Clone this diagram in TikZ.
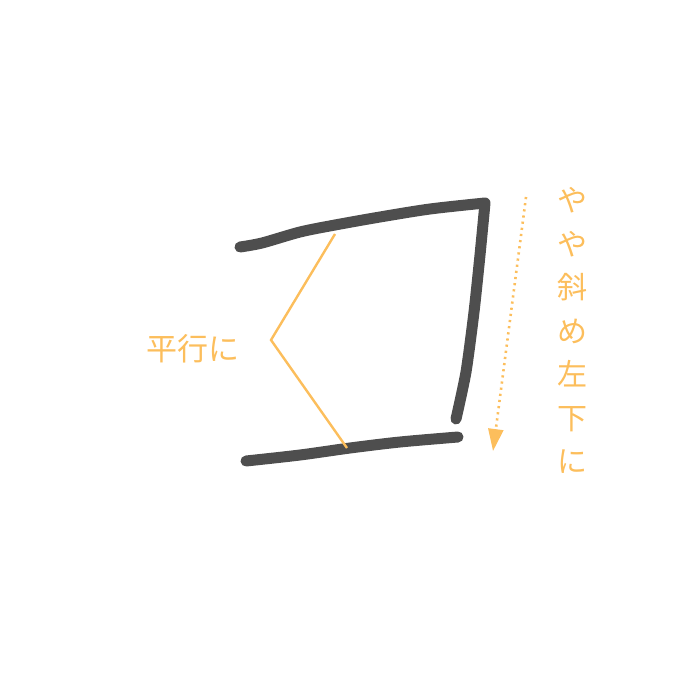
\documentclass[tikz,border=0pt]{standalone}
\usepackage{fontspec}
\newfontfamily\jp{Noto Sans CJK JP}
\usetikzlibrary{arrows.meta}
\definecolor{ink}{RGB}{78,78,78}
\definecolor{note}{RGB}{252,190,92}
\tikzset{
  brush/.style={draw=ink, line width=11pt, line cap=round, line join=round},
  guide/.style={draw=note, line width=2.4pt},
  hint/.style={draw=note, line width=2.6pt, dash pattern=on 2.2pt off 4pt, -{Triangle[length=22pt,width=15pt]}},
  label/.style={text=note, font=\jp\fontsize{31}{31}\selectfont, inner sep=0pt}
}
\begin{document}
\begin{tikzpicture}[x=1pt,y=-1pt]
\useasboundingbox (0,0) rectangle (700,700);
% strokes
\draw[brush] plot[smooth, tension=0.5] coordinates {(240,247) (262,243) (300,232) (335,225) (380,217) (430,209) (485,203)}
  -- plot[smooth, tension=0.4] coordinates {(485,203) (480,255) (474,312) (466,372) (456,419)};
\draw[brush] plot[smooth, tension=0.5] coordinates {(246,461) (300,455) (350,448) (400,442) (458,437)};
% guide lines
\coordinate (gtop) at (335,234);
\coordinate (gapex) at (271,340);
\coordinate (gbot) at (347,448);
\draw[guide] (gtop) -- (gapex) -- (gbot);
\node[label] (par) at (193,349) {平行に};
% arrow
\coordinate (astart) at (526,197);
\coordinate (aend) at (493,451);
\draw[hint] (astart) -- (aend);
\node[label, align=center, font=\jp\fontsize{30}{43.5}\selectfont] (vert) at (572,330.5) {や\\や\\斜\\め\\左\\下\\に};
\end{tikzpicture}
\end{document}
